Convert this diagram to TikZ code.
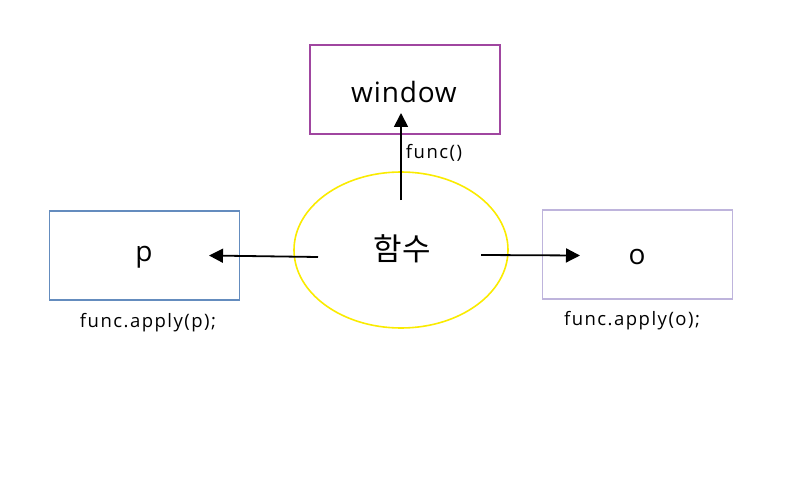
\documentclass[tikz,border=0pt]{standalone}
\usepackage{fontspec}
\setmainfont{Open Sans}
\newfontfamily\kofont{Noto Sans CJK KR}
\usetikzlibrary{arrows.meta,shapes.geometric}
\definecolor{winc}{RGB}{160,70,160}
\definecolor{pc}{RGB}{100,140,190}
\definecolor{oc}{RGB}{190,180,220}
\definecolor{yc}{RGB}{250,235,0}
\tikzset{
  boxst/.style={draw, line width=1.6pt, minimum width=190pt, minimum height=89pt, inner sep=0pt},
  arr/.style={-{Triangle[length=14pt,width=14pt]}, line width=1.8pt},
  big/.style={font=\fontsize{28pt}{32pt}\selectfont\addfontfeature{LetterSpace=3}, inner sep=0pt},
  lbl/.style={font=\fontsize{18.5pt}{21pt}\selectfont\addfontfeature{LetterSpace=8}, inner sep=0pt}
}
\begin{document}
\begin{tikzpicture}[x=1pt,y=-1pt]
\useasboundingbox (0,0) rectangle (800,500);
\node[boxst, draw=winc] (win) at (405,89.5) {};
\node[boxst, draw=pc] (p) at (144.5,255.5) {};
\node[boxst, draw=oc] (o) at (637.5,254.5) {};
\node[draw=yc, line width=1.6pt, ellipse, minimum width=214pt, minimum height=156pt, inner sep=0pt] (f) at (401,250) {};
\node[big] (wt) at (404,92) {window};
\node[big] (pt) at (144,257) {p};
\node[big] (ot) at (637,257) {o};
\node[inner sep=0pt, font=\kofont\fontsize{31pt}{34pt}\selectfont] (ft) at (402,249) {함수};
\node[lbl] (l1) at (434,153) {func()};
\node[lbl] (l2) at (148,323) {func.apply(p);};
\node[lbl] (l3) at (632,321) {func.apply(o);};
\coordinate (us) at (401,200);
\coordinate (ue) at (401,113);
\coordinate (ls) at (318,257);
\coordinate (le) at (209,255.5);
\coordinate (rs) at (481,255);
\coordinate (re) at (580,255.5);
\draw[arr] (us) -- (ue);
\draw[arr] (ls) -- (le);
\draw[arr] (rs) -- (re);
\end{tikzpicture}
\end{document}
